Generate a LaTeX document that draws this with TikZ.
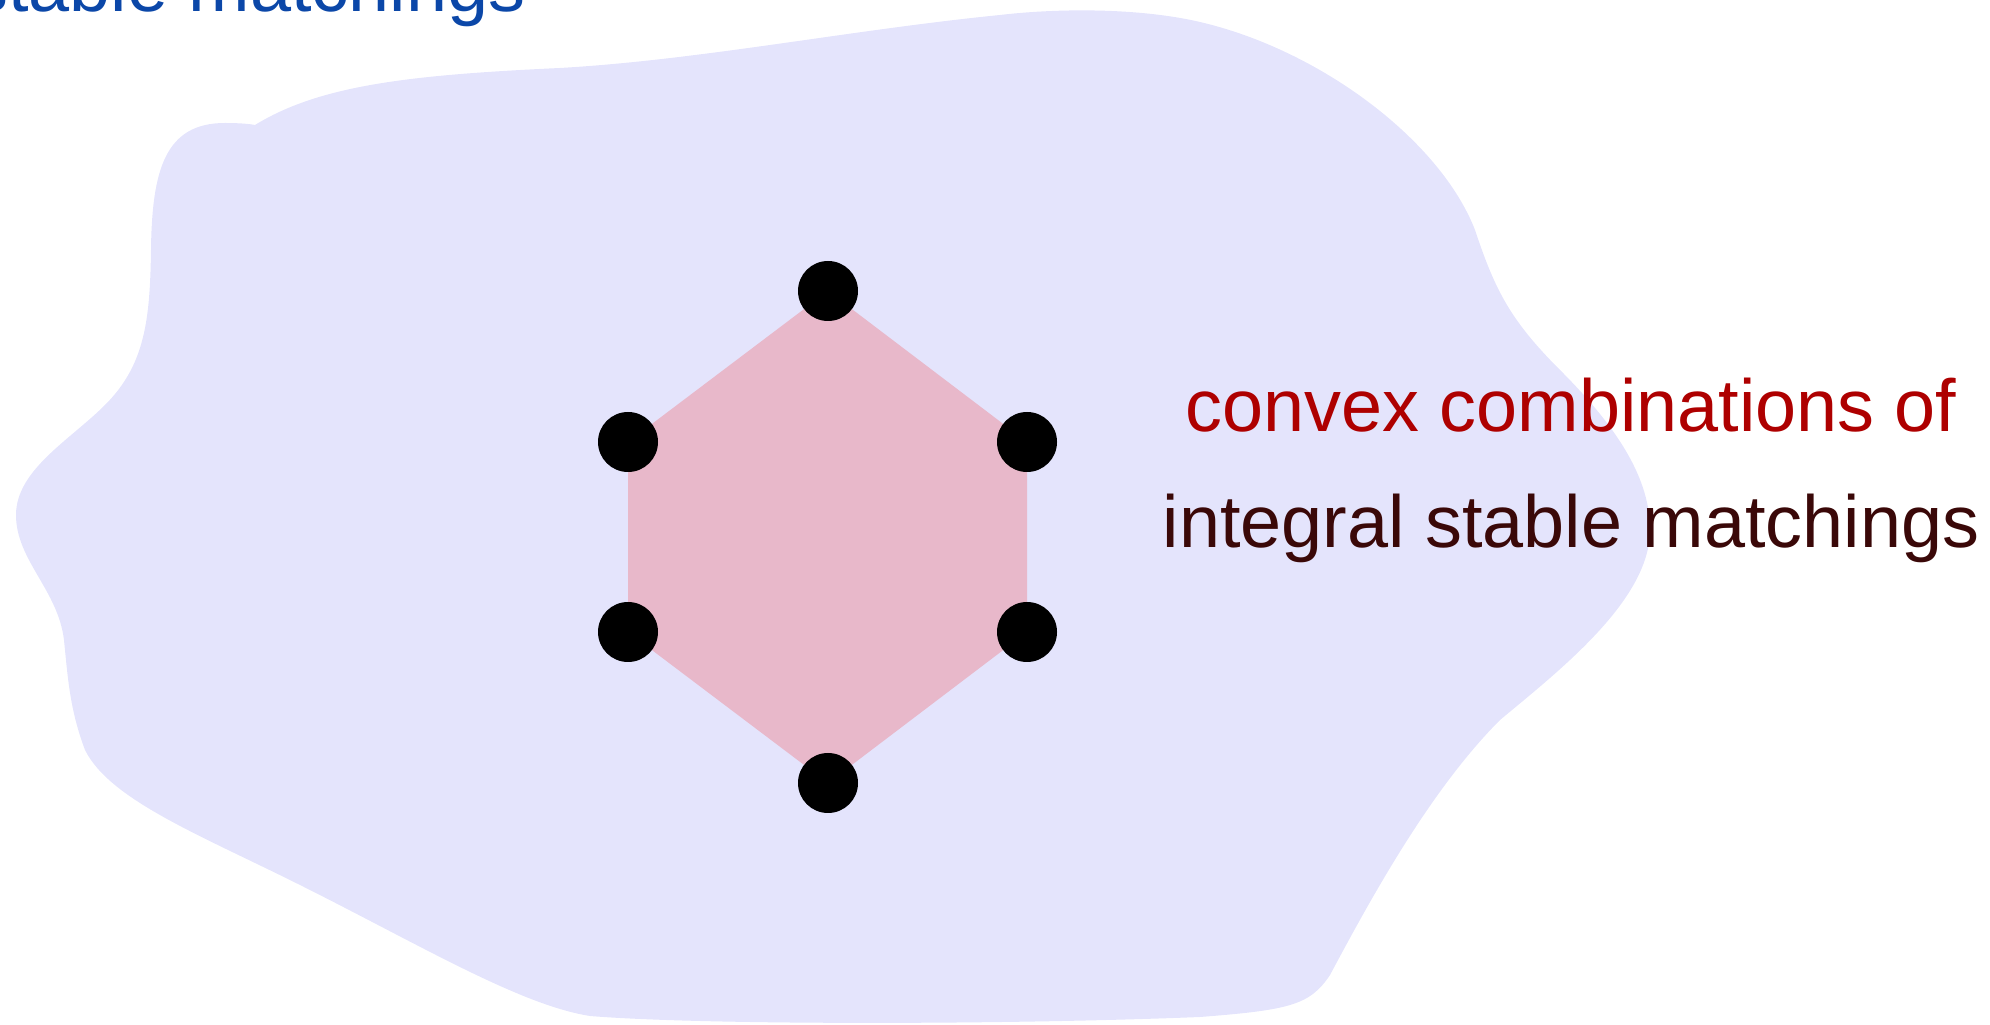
\documentclass[tikz,border=0pt]{standalone}
\usepackage{fontspec}
\setmainfont{Liberation Sans}
\usepackage{tikz}
\usetikzlibrary{backgrounds}
\usepackage{xcolor}
\definecolor{blobfill}{HTML}{E4E4FC}
\definecolor{hexfill}{HTML}{E8B8CA}
\definecolor{comboRed}{HTML}{AE0000}
\definecolor{darkText}{HTML}{3A0808}
\definecolor{stableBlue}{HTML}{0B47A8}

\begin{document}
\begin{tikzpicture}[
  x=0.1mm, y=-0.1mm,
  font=\fontsize{21}{25}\selectfont,
  vertex/.style={circle, fill=black, inner sep=0pt, minimum size=6mm},
  label/.style={inner sep=0pt, anchor=base},
  region/.style={fill=blobfill},
  polytope/.style={fill=hexfill}
]
\useasboundingbox (0,0) rectangle (1990,1025);
\clip (0,0) rectangle (1990,1025);

% Vertices of the polytope
\node[vertex] (top) at (828,291) {};
\node[vertex] (upR) at (1027,442) {};
\node[vertex] (loR) at (1027,632) {};
\node[vertex] (bot) at (828,783) {};
\node[vertex] (loL) at (628,632) {};
\node[vertex] (upL) at (628,442) {};

% Labels
\node[label, text=stableBlue, anchor=base east] (stable) at (526,12) {stable matchings};
\node[label, text=comboRed] (combo) at (1571,432) {convex combinations of};
\node[label, text=darkText] (integral) at (1571,548) {integral stable matchings};

\begin{pgfonlayer}{background}
% Region of fractional matchings
\fill[region] (255,125)
  .. controls (320,85) and (410,75) .. (560,68)
  .. controls (700,60) and (850,30) .. (1000,15)
  .. controls (1060,8) and (1140,8) .. (1200,22)
  .. controls (1320,50) and (1440,140) .. (1475,230)
  .. controls (1495,290) and (1510,320) .. (1560,370)
  .. controls (1620,430) and (1650,480) .. (1650,530)
  .. controls (1650,600) and (1560,670) .. (1500,720)
  .. controls (1430,790) and (1370,900) .. (1330,975)
  .. controls (1310,1005) and (1290,1010) .. (1200,1017)
  .. controls (1000,1025) and (700,1025) .. (590,1016)
  .. controls (520,1005) and (420,945) .. (300,885)
  .. controls (200,835) and (110,800) .. (85,750)
  .. controls (70,710) and (68,680) .. (64,640)
  .. controls (58,590) and (16,560) .. (16,515)
  .. controls (16,470) and (70,440) .. (105,405)
  .. controls (145,365) and (150,320) .. (151,250)
  .. controls (152,170) and (165,123) .. (225,123)
  .. controls (240,123) and (250,124) .. (255,125) -- cycle;
% Polytope
\fill[polytope] (top.center) -- (upR.center) -- (loR.center)
  -- (bot.center) -- (loL.center) -- (upL.center) -- cycle;
\end{pgfonlayer}

\end{tikzpicture}
\end{document}
